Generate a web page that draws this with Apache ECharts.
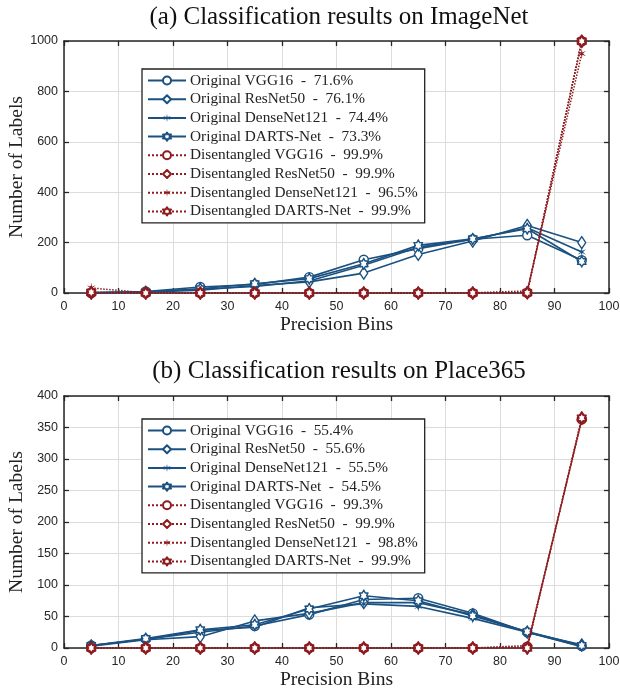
<!DOCTYPE html>
<html>
<head>
<meta charset="utf-8">
<script src="https://cdn.jsdelivr.net/npm/echarts@6/dist/echarts.min.js"></script>
<style>
  html, body { margin: 0; padding: 0; background: #fff; }
  #chart { width: 620px; height: 688px; }
</style>
</head>
<body>
<div id="chart"></div>
<script>
// precision bins (bin centres)
const bins = [5, 15, 25, 35, 45, 55, 65, 75, 85, 95]

// (a) ImageNet
const imgNames = [
  'Original VGG16  -  71.6%', 'Original ResNet50  -  76.1%',
  'Original DenseNet121  -  74.4%', 'Original DARTS-Net  -  73.3%',
  'Disentangled VGG16  -  99.9%', 'Disentangled ResNet50  -  99.9%',
  'Disentangled DenseNet121  -  96.5%', 'Disentangled DARTS-Net  -  99.9%'
]
const imgVgg = [1, 6, 24, 34, 63, 132, 176, 213, 229, 130]
const imgRes = [1, 3, 11, 30, 44, 79, 153, 206, 268, 200]
const imgDense = [1, 5, 15, 26, 48, 110, 182, 213, 259, 163]
const imgDarts = [1, 4, 17, 37, 57, 116, 189, 215, 255, 125]
const imgDisVgg = [0, 0, 0, 0, 0, 0, 0, 0, 1, 999]
const imgDisRes = [0, 0, 0, 0, 0, 0, 0, 0, 1, 999]
const imgDisDense = [20, 1, 1, 1, 1, 1, 1, 1, 8, 950]
const imgDisDarts = [3, 0, 0, 0, 0, 0, 0, 0, 1, 999]

// (b) Place365
const plcNames = [
  'Original VGG16  -  55.4%', 'Original ResNet50  -  55.6%',
  'Original DenseNet121  -  55.5%', 'Original DARTS-Net  -  54.5%',
  'Disentangled VGG16  -  99.3%', 'Disentangled ResNet50  -  99.9%',
  'Disentangled DenseNet121  -  98.8%', 'Disentangled DARTS-Net  -  99.9%'
]
const plcVgg = [4, 14, 25, 35, 53, 77, 79, 55, 25, 3]
const plcRes = [3, 13, 18, 43, 55, 72, 72, 53, 25, 5]
const plcDense = [4, 14, 28, 33, 64, 70, 66, 47, 25, 2]
const plcDarts = [4, 15, 29, 37, 62, 83, 75, 51, 26, 4]
const plcDisVgg = [0, 0, 0, 0, 0, 0, 0, 0, 2, 363]
const plcDisRes = [0, 0, 0, 0, 0, 0, 0, 0, 0, 365]
const plcDisDense = [0, 0, 0, 0, 0, 0, 0, 0, 4, 361]
const plcDisDarts = [0, 0, 0, 0, 0, 0, 0, 0, 0, 365]

const BLUE = '#1b5180'
const RED = '#8e1b1f'
const SERIF = 'Liberation Serif'
const SANS = 'Liberation Sans'

const STAR = 'path://M10 0 L11.25 7.835 L18.66 5 L12.5 10 L18.66 15 L11.25 12.165 L10 20 L8.75 12.165 L1.34 15 L7.5 10 L1.34 5 L8.75 7.835 Z'
const HEXA = 'path://M10 0 L12.887 5 L18.66 5 L15.77 10 L18.66 15 L12.887 15 L10 20 L7.113 15 L1.34 15 L4.23 10 L1.34 5 L7.113 5 Z'

const markers = [
  { symbol: 'circle', size: 9, empty: true },
  { symbol: 'diamond', size: [8, 12], empty: true },
  { symbol: STAR, size: [10, 11], empty: false },
  { symbol: HEXA, size: [10, 11], empty: true }
]

const toPairs = vals => bins.map((b, i) => [b, vals[i]])

function makeSeries(names, lists, gridIdx) {
  return lists.map((vals, i) => {
    const dis = i >= 4
    const color = dis ? RED : BLUE
    const m = markers[i % 4]
    return {
      name: names[i],
      type: 'line',
      xAxisIndex: gridIdx,
      yAxisIndex: gridIdx,
      data: toPairs(vals),
      symbol: m.symbol,
      symbolSize: m.size,
      symbolKeepAspect: true,
      showAllSymbol: true,
      z: dis ? 4 : 3,
      lineStyle: { color: color, width: dis ? 1.5 : 1.6, type: dis ? 'dotted' : 'solid' },
      itemStyle: {
        color: m.empty ? '#fff' : color,
        borderColor: color,
        borderWidth: m.empty ? (dis ? 1.7 : 1.4) : 0,
        borderJoin: 'round'
      },
      emphasis: { disabled: true },
      animation: false
    }
  })
}

const axisLineStyle = { color: '#262626', width: 1.5 }
const tickStyle = { color: '#262626', width: 1.3 }

function xAxes(grid) {
  return [
    {
      type: 'value', gridIndex: grid, min: 0, max: 100, interval: 10,
      name: 'Precision Bins', nameLocation: 'middle', nameGap: 22, nameMoveOverlap: false,
      nameTextStyle: { fontFamily: SERIF, fontSize: 19.5, color: '#222' },
      axisLine: { show: true, onZero: false, lineStyle: axisLineStyle },
      axisTick: { inside: true, length: 5, lineStyle: tickStyle },
      axisLabel: { fontFamily: SANS, fontSize: 12.5, color: '#262626', margin: 7 },
      splitLine: { show: true, lineStyle: { color: '#dcdcdc', width: 1 } }
    },
    {
      type: 'value', gridIndex: grid, position: 'top', min: 0, max: 100, interval: 10,
      axisLine: { show: true, onZero: false, lineStyle: axisLineStyle },
      axisTick: { inside: true, length: 5, lineStyle: tickStyle },
      axisLabel: { show: false },
      splitLine: { show: false }
    }
  ]
}

function yAxes(grid, max, interval) {
  return [
    {
      type: 'value', gridIndex: grid, min: 0, max: max, interval: interval,
      name: 'Number of Labels', nameLocation: 'middle', nameGap: 37, nameMoveOverlap: false,
      nameTextStyle: { fontFamily: SERIF, fontSize: 19.5, color: '#222' },
      axisLine: { show: true, onZero: false, lineStyle: axisLineStyle },
      axisTick: { show: true, inside: true, length: 5, lineStyle: tickStyle },
      axisLabel: { fontFamily: SANS, fontSize: 12.5, color: '#262626', margin: 6, formatter: v => String(v) },
      splitLine: { show: true, lineStyle: { color: '#dcdcdc', width: 1 } }
    },
    {
      type: 'value', gridIndex: grid, position: 'right', min: 0, max: max, interval: interval,
      axisLine: { show: true, onZero: false, lineStyle: axisLineStyle },
      axisTick: { show: true, inside: true, length: 5, lineStyle: tickStyle },
      axisLabel: { show: false },
      splitLine: { show: false }
    }
  ]
}

function legendFor(names, top) {
  return {
    data: names,
    orient: 'vertical',
    left: 142,
    top: top,
    itemWidth: 38,
    itemHeight: 10,
    itemGap: 2.7,
    padding: [3.5, 7, 3.5, 5],
    backgroundColor: '#fff',
    borderColor: '#222',
    borderWidth: 1.3,
    selectedMode: false,
    textStyle: { fontFamily: SERIF, fontSize: 15.3, color: '#222', lineHeight: 16, padding: [0, 0, 0, -1] },
    z: 10
  }
}

const chart = echarts.init(document.getElementById('chart'), null, { renderer: 'canvas' })

const xa = xAxes(0), xb = xAxes(1)
const ya = yAxes(0, 1000, 200), yb = yAxes(1, 400, 50)

const titleStyle = { fontFamily: SERIF, fontSize: 25, fontWeight: 'normal', color: '#111' }

const option = {
  animation: false,
  backgroundColor: '#fff',
  title: [
    { text: '(a) Classification results on ImageNet', left: 334, top: 0, textAlign: 'center', textStyle: titleStyle },
    { text: '(b) Classification results on Place365', left: 334, top: 354, textAlign: 'center', textStyle: titleStyle }
  ],
  grid: [
    { left: 64, top: 41, width: 545, height: 252, outerBoundsMode: 'none' },
    { left: 64, top: 396, width: 545, height: 252, outerBoundsMode: 'none' }
  ],
  // main axes first (index 0 and 1), mirrored tick axes after
  xAxis: [xa[0], xb[0], xa[1], xb[1]],
  yAxis: [ya[0], yb[0], ya[1], yb[1]],
  legend: [legendFor(imgNames, 69), legendFor(plcNames, 419)],
  series: [
    ...makeSeries(imgNames, [imgVgg, imgRes, imgDense, imgDarts, imgDisVgg, imgDisRes, imgDisDense, imgDisDarts], 0),
    ...makeSeries(plcNames, [plcVgg, plcRes, plcDense, plcDarts, plcDisVgg, plcDisRes, plcDisDense, plcDisDarts], 1)
  ]
}

chart.setOption(option)
</script>
</body>
</html>
